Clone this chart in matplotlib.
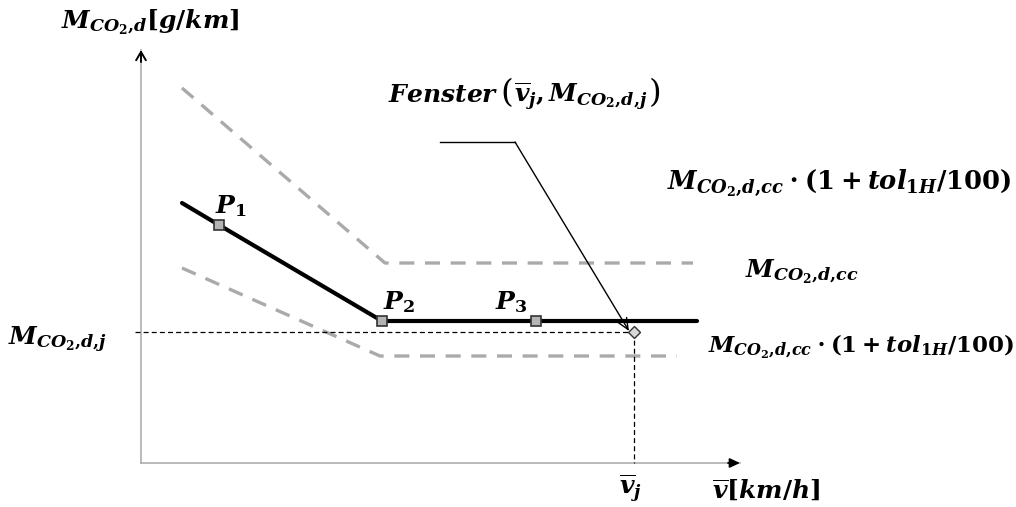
import matplotlib
matplotlib.use("Agg")
import matplotlib.pyplot as plt
from matplotlib.offsetbox import TextArea, HPacker, AnnotationBbox

plt.rcParams['mathtext.fontset'] = 'custom'
plt.rcParams['mathtext.it'] = 'DejaVu Serif:italic:bold'
plt.rcParams['mathtext.rm'] = 'DejaVu Serif:bold'
plt.rcParams['mathtext.bf'] = 'DejaVu Serif:bold'
plt.rcParams['mathtext.fallback'] = 'stixsans'

# ---- data (schematic units) ----
curve_v = [41, 78, 241, 395, 556]
curve_m = [260, 238, 142, 142, 142]
points_v = [78, 241, 395]
points_m = [238, 142, 142]
point_labels = ['$P_1$', '$P_2$', '$P_3$']
upper_v = [41, 244, 552]
upper_m = [375, 200, 200]
lower_v = [41, 239, 536]
lower_m = [195, 107, 107]
vj = 493
mj = 131
x_axis_end = 599
y_axis_end = 413

fig = plt.figure(figsize=(10.16, 5.07), dpi=100)
ax = fig.add_axes([0, 0, 1, 1])
ax.set_xlim(-141, 1016 - 141)
ax.set_ylim(-(507 - 463), 463)
ax.axis('off')

# axes lines (gray) with black arrowheads
ax.plot([0, 0], [0, y_axis_end], color='#a8a8a8', lw=1.1)
ax.plot([0, x_axis_end], [0, 0], color='#a8a8a8', lw=1.1)
ax.annotate('', xy=(0, y_axis_end), xytext=(0, y_axis_end - 12),
            arrowprops=dict(arrowstyle='->,head_length=0.6,head_width=0.35',
                            color='black', lw=1.4, shrinkA=0, shrinkB=0))
ax.annotate('', xy=(x_axis_end, 0), xytext=(x_axis_end - 12, 0),
            arrowprops=dict(arrowstyle='-|>,head_length=0.6,head_width=0.28',
                            color='black', lw=1.3, shrinkA=0, shrinkB=0))

# tolerance bands
ax.plot(upper_v, upper_m, color='#aaaaaa', lw=2.4, dashes=(4.5, 3.2))
ax.plot(lower_v, lower_m, color='#aaaaaa', lw=2.4, dashes=(4.5, 3.2))

# reference lines for point j
ax.plot([-6, vj], [mj, mj], color='black', lw=0.9, dashes=(4, 2.5))
ax.plot([vj, vj], [mj, 0], color='black', lw=0.9, dashes=(4, 2.5))

# main curve
ax.plot(curve_v, curve_m, color='black', lw=3.0, solid_capstyle='round', zorder=3)
ax.plot(points_v, points_m, ls='none', marker='s', ms=7.5, mfc='#b4b4b4',
        mec='#333333', mew=1.2, zorder=4)
ax.plot([vj], [mj], ls='none', marker='D', ms=6, mfc='#d8d8d8', mec='#333333',
        mew=1.0, zorder=5)

# window annotation arrow
ax.plot([299, 374], [321, 321], color='black', lw=1.0)
ax.annotate('', xy=(vj - 5, mj + 1), xytext=(374, 321),
            arrowprops=dict(arrowstyle='->,head_length=0.8,head_width=0.35',
                            color='black', lw=1.0, shrinkA=0, shrinkB=0))

fs = 18
for lbl, x, y in zip(point_labels, [90, 258, 370], [257, 161, 161]):
    ax.text(x, y, lbl, fontsize=fs, ha='center', va='center')

ax.text(9, 441, r'$M_{CO_2{,}d}[g/km]$', fontsize=fs, ha='center', va='center')

# Fenster label with enlarged parentheses
paren_props = dict(fontsize=fs * 1.3, family='DejaVu Serif', fontweight='normal')
parts = [
    TextArea(r'$Fenster$', textprops=dict(fontsize=fs)),
    TextArea('(', textprops=paren_props),
    TextArea(r'$\overline{v}_j{,}\,M_{CO_2{,}d{,}j}$', textprops=dict(fontsize=fs)),
    TextArea(')', textprops=paren_props),
]
pack = HPacker(children=parts, align='baseline', pad=0, sep=1)
ab = AnnotationBbox(pack, (384, 368), frameon=False, box_alignment=(0.5, 0.5))
ax.add_artist(ab)

ax.text(698, 280, r'$M_{CO_2{,}d{,}cc}\cdot(1+tol_{1H}/100)$', fontsize=18.5,
        ha='center', va='center')
ax.text(604, 191, r'$M_{CO_2{,}d{,}cc}$', fontsize=fs, ha='left', va='center')
ax.text(567, 117, r'$M_{CO_2{,}d{,}cc}\cdot(1+tol_{1H}/100)$', fontsize=16.5,
        ha='left', va='center')
ax.text(-34, 123, r'$M_{CO_2{,}d{,}j}$', fontsize=fs, ha='right', va='center')
ax.text(489, -25, r'$\overline{v}_j$', fontsize=fs, ha='center', va='center')
ax.text(625, -27, r'$\overline{v}[km/h]$', fontsize=fs, ha='center', va='center')

fig.savefig('out.png', dpi=100)
